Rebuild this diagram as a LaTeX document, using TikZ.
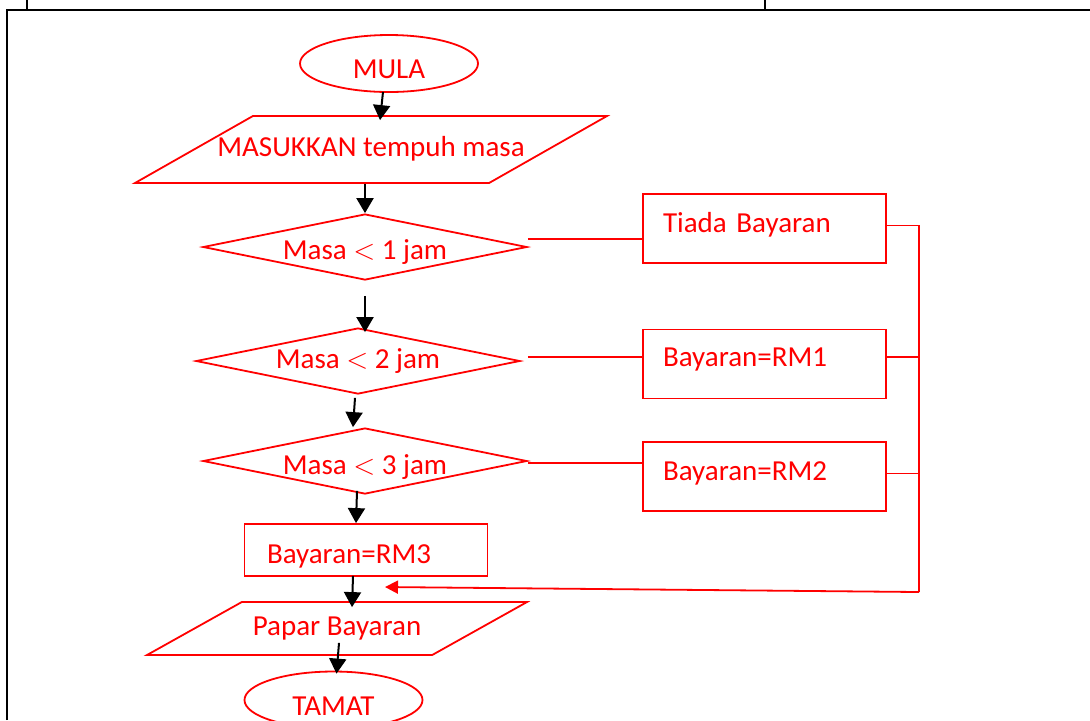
\documentclass[tikz,border=0pt]{standalone}
\usepackage{fontspec}
\setmainfont{Carlito}
\usepackage{tikz}
\usetikzlibrary{calc}
\usetikzlibrary{shapes.geometric,arrows.meta}
\tikzstyle{terminal} = [ellipse, draw=red, line width=0.9pt, text=red,
	minimum width=89pt, minimum height=28.5pt, inner sep=0pt]
\tikzstyle{inoutput} = [trapezium, trapezium stretches body=true,
	draw=red, line width=0.9pt, text=red, inner xsep=0pt, text height=10pt, text depth=3pt]
\tikzstyle{decision} = [diamond, aspect=4.9, draw=red, line width=0.9pt, text=red,
	minimum width=162pt, minimum height=33pt, inner sep=0pt]
\tikzstyle{process} = [rectangle, draw=red, line width=0.9pt, text=red,
	minimum width=121.5pt, minimum height=34.5pt, inner xsep=10pt, text width=101.5pt, align=left]
\tikzstyle{flowarrow} = [draw=black, line width=1pt, -{Triangle[length=7.5pt,width=8.5pt]}]
\tikzstyle{redline} = [draw=red, line width=0.9pt]
\tikzstyle{frameline} = [draw=black, line width=1.1pt]

\begin{document}
\begin{tikzpicture}[x=0.5pt,y=-0.5pt,font=\fontsize{14.5}{17.4}\selectfont]
	\useasboundingbox (0,0) rectangle (1090,720);
	\draw[frameline] (7,720) -- (7,10) -- (1090,10);
	\draw[frameline] (27,0) -- (27,10);
	\draw[frameline] (765,0) -- (765,10);

	\node[terminal, text height=14.5pt, text depth=0pt] (mula) at (389,63.5) {MULA};
	\node[inoutput, trapezium left angle=29.6, trapezium right angle=150.4,
		minimum width=236pt, inner ysep=10.25pt, inner xsep=-18.5pt] (masuk) at (371,149.5) {MASUKKAN tempuh masa};
	\node[decision, text height=12pt, text depth=0pt] (d1) at (365,247) {Masa $<$ 1 jam};
	\node[decision] (d2) at (358,361) {Masa $<$ 2 jam};
	\node[decision, text height=13pt, text depth=0pt] (d3) at (365,461) {Masa $<$ 3 jam};
	\node[process, minimum height=26pt, inner xsep=11pt, text width=99pt,
		text height=13pt, text depth=0pt] (t3) at (366,550) {Bayaran=RM3};
	\node[inoutput, trapezium left angle=29.2, trapezium right angle=150.8,
		minimum width=190pt, inner ysep=6.75pt] (papar) at (337,628.5) {Papar Bayaran};
	\node[terminal, text height=15pt, text depth=0pt] (tamat) at (333.5,700) {TAMAT};

	\node[process, text height=10pt, text depth=6.5pt] (t0) at (764.5,228.5) {Tiada Bayaran};
	\node[process, text height=9pt, text depth=7pt] (t1) at (764.5,364) {Bayaran=RM1};
	\node[process, text height=10pt, text depth=6.5pt] (t2) at (764.5,476.5) {Bayaran=RM2};

	% main flow
	\draw[flowarrow] ($(mula.south)+(-6,-1)$) -- ($(masuk.north)+(9,5)$);
	\draw[flowarrow] (d1.north |- masuk.south) -- (d1.north);
	\draw[flowarrow] ($(d1.south)+(0,15)$) -- ($(d1.south |- d2.north)+(0,5)$);
	\draw[flowarrow] ($(d2.south)+(-3,3)$) -- ($(d3.north)+(-12,0)$);
	\draw[flowarrow] ($(d3.south)+(-8,-4)$) -- ($(t3.north)+(-10,0)$);
	\draw[flowarrow] ($(t3.south)+(-13,-1)$) -- ($(papar.north)+(15,6)$);
	\draw[flowarrow] ($(papar.south)+(2,-13)$) -- ($(tamat.north)+(3,3)$);

	\coordinate (d1r) at ([yshift=4pt]d1.east);
	\coordinate (d2r) at ([xshift=3.5pt,yshift=2pt]d2.east);
	\coordinate (d3r) at ([yshift=-1pt]d3.east);
	\draw[redline] (d1r) -- (d1r -| t0.west);
	\draw[redline] (d2r) -- (d2r -| t1.west);
	\draw[redline] (d3r) -- (d3r -| t2.west);

	\coordinate (bend) at (919,592);
	\coordinate (merge) at (385,587);
	\coordinate (t1r) at ([yshift=3.5pt]t1.east);
	\coordinate (t2r) at ([yshift=1.5pt]t2.east);
	\draw[redline] ([yshift=1.5pt]t0.east) -| (bend);
	\draw[redline] (t1r) -- (t1r -| bend);
	\draw[redline] (t2r) -- (t2r -| bend);
	\draw[redline, -{Triangle[length=6.5pt,width=6.5pt]}] (bend) -- (merge);
\end{tikzpicture}
\end{document}
